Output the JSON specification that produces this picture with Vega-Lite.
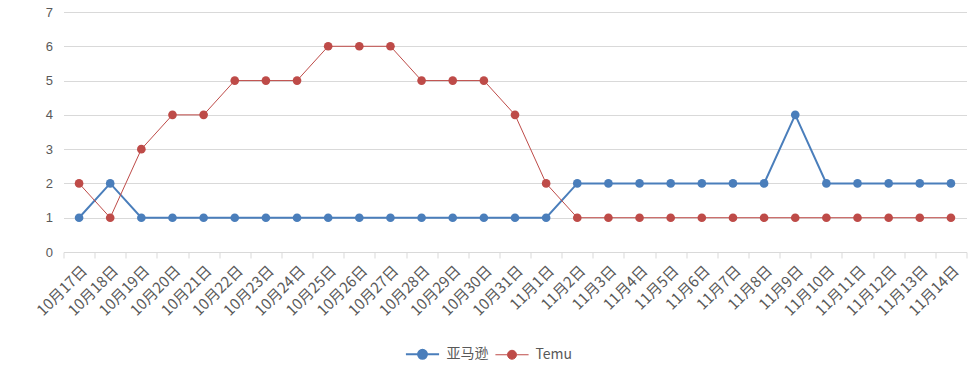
{
  "$schema": "https://vega.github.io/schema/vega-lite/v6.json",
  "width": 903,
  "height": 240,
  "autosize": {"type": "none"},
  "padding": {"left": 63.5, "top": 12, "right": 4.5, "bottom": 126},
  "background": "white",
  "config": {
    "view": {"stroke": null},
    "font": "Noto Sans CJK SC"
  },
  "data": {
    "values": [
      {"date": "10月17日", "series": "亚马逊", "value": 1}, {"date": "10月17日", "series": "Temu", "value": 2},
      {"date": "10月18日", "series": "亚马逊", "value": 2}, {"date": "10月18日", "series": "Temu", "value": 1},
      {"date": "10月19日", "series": "亚马逊", "value": 1}, {"date": "10月19日", "series": "Temu", "value": 3},
      {"date": "10月20日", "series": "亚马逊", "value": 1}, {"date": "10月20日", "series": "Temu", "value": 4},
      {"date": "10月21日", "series": "亚马逊", "value": 1}, {"date": "10月21日", "series": "Temu", "value": 4},
      {"date": "10月22日", "series": "亚马逊", "value": 1}, {"date": "10月22日", "series": "Temu", "value": 5},
      {"date": "10月23日", "series": "亚马逊", "value": 1}, {"date": "10月23日", "series": "Temu", "value": 5},
      {"date": "10月24日", "series": "亚马逊", "value": 1}, {"date": "10月24日", "series": "Temu", "value": 5},
      {"date": "10月25日", "series": "亚马逊", "value": 1}, {"date": "10月25日", "series": "Temu", "value": 6},
      {"date": "10月26日", "series": "亚马逊", "value": 1}, {"date": "10月26日", "series": "Temu", "value": 6},
      {"date": "10月27日", "series": "亚马逊", "value": 1}, {"date": "10月27日", "series": "Temu", "value": 6},
      {"date": "10月28日", "series": "亚马逊", "value": 1}, {"date": "10月28日", "series": "Temu", "value": 5},
      {"date": "10月29日", "series": "亚马逊", "value": 1}, {"date": "10月29日", "series": "Temu", "value": 5},
      {"date": "10月30日", "series": "亚马逊", "value": 1}, {"date": "10月30日", "series": "Temu", "value": 5},
      {"date": "10月31日", "series": "亚马逊", "value": 1}, {"date": "10月31日", "series": "Temu", "value": 4},
      {"date": "11月1日", "series": "亚马逊", "value": 1}, {"date": "11月1日", "series": "Temu", "value": 2},
      {"date": "11月2日", "series": "亚马逊", "value": 2}, {"date": "11月2日", "series": "Temu", "value": 1},
      {"date": "11月3日", "series": "亚马逊", "value": 2}, {"date": "11月3日", "series": "Temu", "value": 1},
      {"date": "11月4日", "series": "亚马逊", "value": 2}, {"date": "11月4日", "series": "Temu", "value": 1},
      {"date": "11月5日", "series": "亚马逊", "value": 2}, {"date": "11月5日", "series": "Temu", "value": 1},
      {"date": "11月6日", "series": "亚马逊", "value": 2}, {"date": "11月6日", "series": "Temu", "value": 1},
      {"date": "11月7日", "series": "亚马逊", "value": 2}, {"date": "11月7日", "series": "Temu", "value": 1},
      {"date": "11月8日", "series": "亚马逊", "value": 2}, {"date": "11月8日", "series": "Temu", "value": 1},
      {"date": "11月9日", "series": "亚马逊", "value": 4}, {"date": "11月9日", "series": "Temu", "value": 1},
      {"date": "11月10日", "series": "亚马逊", "value": 2}, {"date": "11月10日", "series": "Temu", "value": 1},
      {"date": "11月11日", "series": "亚马逊", "value": 2}, {"date": "11月11日", "series": "Temu", "value": 1},
      {"date": "11月12日", "series": "亚马逊", "value": 2}, {"date": "11月12日", "series": "Temu", "value": 1},
      {"date": "11月13日", "series": "亚马逊", "value": 2}, {"date": "11月13日", "series": "Temu", "value": 1},
      {"date": "11月14日", "series": "亚马逊", "value": 2}, {"date": "11月14日", "series": "Temu", "value": 1}
    ]
  },
  "encoding": {
    "x": {
      "field": "date", "type": "ordinal", "sort": null,
      "scale": {"type": "band", "paddingInner": 0, "paddingOuter": 0},
      "axis": {
        "title": null, "labelAngle": -45, "tickBand": "extent", "ticks": true, "tickSize": 6,
        "tickColor": "#d9d9d9", "domainColor": "#d9d9d9", "labelFontSize": 15, "labelPadding": 5,
        "labelColor": "#595959", "labelFont": "Noto Sans CJK SC", "grid": false
      }
    },
    "y": {
      "field": "value", "type": "quantitative",
      "scale": {"domain": [0, 7], "nice": false},
      "axis": {
        "title": null, "values": [0, 1, 2, 3, 4, 5, 6, 7], "labelOverlap": false, "domain": false, "ticks": false,
        "labelPadding": 11, "gridColor": "#d9d9d9", "labelFontSize": 13, "labelColor": "#595959",
        "labelFont": "Liberation Sans"
      }
    },
    "color": {
      "field": "series", "type": "nominal",
      "scale": {"domain": ["亚马逊", "Temu"], "range": ["#4a7ebb", "#be4b48"]},
      "legend": {
        "title": null, "orient": "none", "legendX": 341, "legendY": 324, "direction": "horizontal",
        "symbolType": "M-1,0L-0.27,0M0.27,0L1,0M-0.27,0A0.27,0.27 0 1,1 0.27,0A0.27,0.27 0 1,1 -0.27,0Z",
        "symbolSize": 1100, "symbolStrokeWidth": 1.5, "labelFontSize": 14, "labelColor": "#595959",
        "labelFont": "Noto Sans CJK SC", "columnPadding": 4, "labelOffset": 6
      }
    }
  },
  "layer": [
    {
      "mark": {"type": "line"},
      "encoding": {
        "strokeWidth": {"field": "series", "type": "nominal", "scale": {"domain": ["亚马逊", "Temu"], "range": [2, 1]}, "legend": null}
      }
    },
    {
      "mark": {"type": "point", "filled": true, "size": 75, "opacity": 1}
    }
  ]
}
